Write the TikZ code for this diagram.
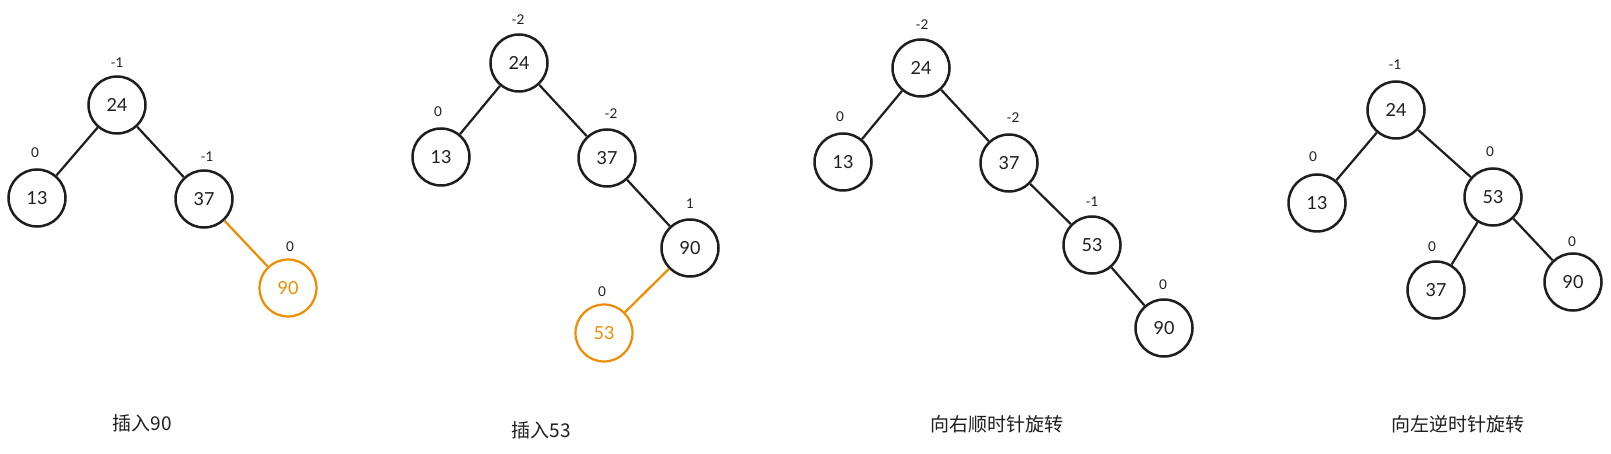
\documentclass[tikz,border=0pt]{standalone}
\usepackage{fontspec}
\setmainfont{Lato}
\newfontfamily\cjk{Noto Sans CJK SC}
\definecolor{ink}{HTML}{1E1E1E}
\definecolor{hl}{HTML}{F08C00}
\tikzset{
  tn/.style={circle, draw=ink, line width=2.5pt, minimum size=57pt, inner sep=0pt, text=ink, font=\fontsize{18}{18}\selectfont},
  tnhl/.style={tn, draw=hl, text=hl, line width=2.2pt},
  edge/.style={draw=ink, line width=2.2pt},
  edgehl/.style={draw=hl, line width=2.2pt},
  bal/.style={text=ink, font=\fontsize{13.5}{14}\selectfont, inner sep=0pt},
  captxt/.style={text=ink, font=\cjk\fontsize{19}{20}\selectfont, inner sep=0pt}
}
\begin{document}
\begin{tikzpicture}[x=1pt,y=-1pt]
\useasboundingbox[fill=white] (0,0) rectangle (1611,454);
% ---- tree 1
\node[tn] (a24) at (117,105) {24};
\node[tn] (a13) at (37,198) {13};
\node[tn] (a37) at (204,199) {37};
\node[tnhl] (a90) at (288,288) {90};
\draw[edge] (a24) -- (a13);
\draw[edge] (a24) -- (a37);
\draw[edgehl] (a37) -- (a90);
\node[bal] (la24) at (117,63) {-1};
\node[bal] (la13) at (35,153) {0};
\node[bal] (la37) at (207,157) {-1};
\node[bal] (la90) at (290,247) {0};
\node[captxt] (ca) at (142,423) {插入90};
% ---- tree 2
\node[tn] (b24) at (519,63) {24};
\node[tn] (b13) at (441,157) {13};
\node[tn] (b37) at (607,158) {37};
\node[tn] (b90) at (690,248) {90};
\node[tnhl] (b53) at (604,333) {53};
\draw[edge] (b24) -- (b13);
\draw[edge] (b24) -- (b37);
\draw[edge] (b37) -- (b90);
\draw[edgehl] (b90) -- (b53);
\node[bal] (lb24) at (518,20) {-2};
\node[bal] (lb13) at (438,112) {0};
\node[bal] (lb37) at (611,114) {-2};
\node[bal] (lb90) at (690,204) {1};
\node[bal] (lb53) at (602,292) {0};
\node[captxt] (cb) at (541,430) {插入53};
% ---- tree 3
\node[tn] (c24) at (921,68) {24};
\node[tn] (c13) at (843,162) {13};
\node[tn] (c37) at (1009,163) {37};
\node[tn] (c53) at (1092,245) {53};
\node[tn] (c90) at (1164,328) {90};
\draw[edge] (c24) -- (c13);
\draw[edge] (c24) -- (c37);
\draw[edge] (c37) -- (c53);
\draw[edge] (c53) -- (c90);
\node[bal] (lc24) at (922,25) {-2};
\node[bal] (lc13) at (840,117) {0};
\node[bal] (lc37) at (1013,118) {-2};
\node[bal] (lc53) at (1092,202) {-1};
\node[bal] (lc90) at (1163,285) {0};
\node[captxt] (cc) at (997,424) {向右顺时针旋转};
% ---- tree 4
\node[tn] (d24) at (1396,110) {24};
\node[tn] (d13) at (1317,203) {13};
\node[tn] (d53) at (1493,197) {53};
\node[tn] (d37) at (1436,290) {37};
\node[tn] (d90) at (1573,282) {90};
\draw[edge] (d24) -- (d13);
\draw[edge] (d24) -- (d53);
\draw[edge] (d53) -- (d37);
\draw[edge] (d53) -- (d90);
\node[bal] (ld24) at (1395,65) {-1};
\node[bal] (ld13) at (1313,157) {0};
\node[bal] (ld53) at (1490,152) {0};
\node[bal] (ld37) at (1432,247) {0};
\node[bal] (ld90) at (1572,242) {0};
\node[captxt] (cd) at (1458,424) {向左逆时针旋转};
\end{tikzpicture}
\end{document}
